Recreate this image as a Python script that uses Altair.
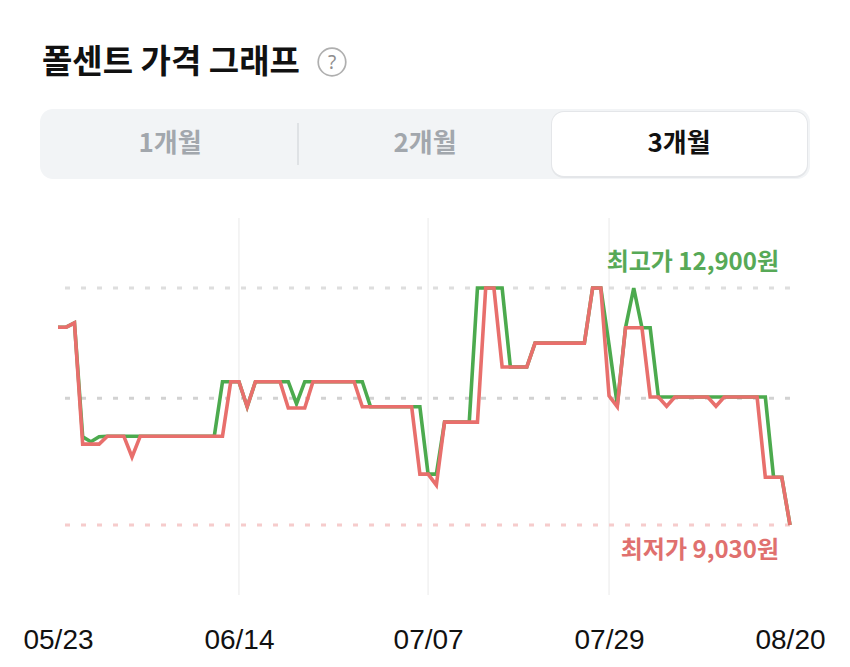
import json
import altair as alt
import pandas as pd

# ---------------- data ----------------
start_date = "2024-05-23"
tick_labels = ["05/23", "06/14", "07/07", "07/29", "08/20"]

low_prices = [
    12260, 12260, 12330, 10350, 10350, 10350, 10480, 10480, 10480, 10140,
    10480, 10480, 10480, 10480, 10480, 10480, 10480, 10480, 10480, 10480,
    10480, 11370, 11370, 10960, 11370, 11370, 11370, 11370, 10940, 10940,
    10940, 11370, 11370, 11370, 11370, 11370, 11370, 10960, 10960, 10960,
    10960, 10960, 10960, 10960, 9860, 9860, 9680, 10710, 10710, 10710,
    10710, 10710, 12900, 12900, 11610, 11610, 11610, 11610, 12000, 12000,
    12000, 12000, 12000, 12000, 12000, 12900, 12900, 11140, 10960, 12250,
    12250, 12250, 11120, 11120, 10970, 11120, 11120, 11120, 11120, 11120,
    10970, 11120, 11120, 11120, 11120, 11120, 9810, 9810, 9810, 9030,
]
high_prices = [
    12260, 12260, 12330, 10470, 10390, 10470, 10480, 10480, 10480, 10480,
    10480, 10480, 10480, 10480, 10480, 10480, 10480, 10480, 10480, 10480,
    11370, 11370, 11370, 10960, 11370, 11370, 11370, 11370, 11370, 11010,
    11370, 11370, 11370, 11370, 11370, 11370, 11370, 11370, 10960, 10960,
    10960, 10960, 10960, 10960, 10960, 9860, 9860, 10710, 10710, 10710,
    10710, 12900, 12900, 12900, 12900, 11610, 11610, 11610, 12000, 12000,
    12000, 12000, 12000, 12000, 12000, 12900, 12900, 11970, 10990, 12250,
    12900, 12250, 12250, 11120, 11120, 11120, 11120, 11120, 11120, 11120,
    11120, 11120, 11120, 11120, 11120, 11120, 11120, 9810, 9810, 9030,
]
max_price = 12900
min_price = 9030
mid_price = 11100

title_text = "폴센트 가격 그래프"
segments = ["1개월", "2개월", "3개월"]
selected_segment = "3개월"

# ---------------- derived tables ----------------
start = pd.Timestamp(start_date)
dates = pd.date_range(start, periods=len(low_prices), freq="D")
days = [(d - start).days for d in dates]
df = pd.DataFrame({"day": days, "high": high_prices, "low": low_prices})

tick_days = [(pd.Timestamp(f"{start.year}-{lbl.replace('/', '-')}") - start).days
             for lbl in tick_labels]
grid_df = pd.DataFrame({"day": tick_days[1:-1]})
ref_df = pd.DataFrame({"value": [max_price, mid_price, min_price],
                       "kind": ["max", "mid", "min"]})
last_day = days[-1]
max_df = pd.DataFrame({"day": [last_day], "value": [max_price],
                       "text": [f"최고가 {max_price:,}원"]})
min_df = pd.DataFrame({"day": [last_day], "value": [min_price],
                       "text": [f"최저가 {min_price:,}원"]})

GREEN = "#4caa4e"
RED = "#e86f6c"
KFONT = "Noto Sans CJK KR"

label_expr = f"{json.dumps(tick_labels)}[indexof({json.dumps(tick_days)}, datum.value)]"

x_scale = alt.Scale(domain=[days[0], days[-1]], nice=False, zero=False)
y_scale = alt.Scale(domain=[7887, 14043], nice=False, zero=False)

x_enc = alt.X("day:Q", scale=x_scale,
              axis=alt.Axis(values=tick_days, labelExpr=label_expr, title=None,
                            grid=False, domain=False, ticks=False, tickSize=0,
                            labelFontSize=28, labelColor="#111111",
                            labelFont="Liberation Sans", labelFlush=False,
                            labelOverlap=False, labelBound=False,
                            labelBaseline="alphabetic", labelPadding=53))

grid = alt.Chart(grid_df).mark_rule(color="#f1f1f1", strokeWidth=1.5).encode(
    x=alt.X("day:Q", scale=x_scale))

refs = alt.Chart(ref_df).mark_rule(strokeDash=[5, 11], strokeWidth=3).encode(
    y=alt.Y("value:Q", scale=y_scale, axis=None),
    color=alt.Color("kind:N", legend=None,
                    scale=alt.Scale(domain=["max", "mid", "min"],
                                    range=["#dedede", "#d2d2d2", "#f6cccc"])))

line_high = alt.Chart(df).mark_line(color=GREEN, strokeWidth=3.6).encode(
    x=x_enc, y=alt.Y("high:Q", scale=y_scale, axis=None))
line_low = alt.Chart(df).mark_line(color=RED, strokeWidth=3.6).encode(
    x=alt.X("day:Q", scale=x_scale), y=alt.Y("low:Q", scale=y_scale, axis=None))

max_label = alt.Chart(max_df).mark_text(
    align="right", baseline="alphabetic", dx=-11, dy=-18, fontSize=24,
    fontWeight="bold", font=KFONT, color="#57a957").encode(
    x=alt.X("day:Q", scale=x_scale), y=alt.Y("value:Q", scale=y_scale), text="text:N")
min_label = alt.Chart(min_df).mark_text(
    align="right", baseline="alphabetic", dx=-11, dy=33, fontSize=24,
    fontWeight="bold", font=KFONT, color="#e0706e").encode(
    x=alt.X("day:Q", scale=x_scale), y=alt.Y("value:Q", scale=y_scale), text="text:N")

# ---------------- header (title + period selector) ----------------
one = pd.DataFrame({"k": [0]})
title_df = pd.DataFrame({"t": [title_text]})
title_mark = alt.Chart(title_df).mark_text(
    align="left", baseline="alphabetic", fontSize=33, fontWeight="bold",
    font=KFONT, color="#111111").encode(
    x=alt.value(-16), y=alt.value(-145), text="t:N")
help_circle = alt.Chart(one).mark_point(
    shape="circle", filled=False, size=760, strokeWidth=1.7, color="#8e8e8e").encode(
    x=alt.value(274), y=alt.value(-156))
help_q = alt.Chart(pd.DataFrame({"t": ["?"]})).mark_text(
    align="center", baseline="middle", fontSize=19, font="Noto Sans",
    color="#8e8e8e").encode(x=alt.value(274), y=alt.value(-155), text="t:N")

seg_bg = alt.Chart(one).mark_rect(color="#f2f4f6", cornerRadius=13).encode(
    x=alt.value(-18), x2=alt.value(752), y=alt.value(-109), y2=alt.value(-39))
seg_shadow = alt.Chart(one).mark_rect(color="#e4e6e9", cornerRadius=13).encode(
    x=alt.value(493), x2=alt.value(750), y=alt.value(-107), y2=alt.value(-40))
seg_sel = alt.Chart(one).mark_rect(color="#ffffff", cornerRadius=12).encode(
    x=alt.value(494), x2=alt.value(749), y=alt.value(-106), y2=alt.value(-42))
seg_div = alt.Chart(one).mark_rule(color="#d9dcdf", strokeWidth=1.5).encode(
    x=alt.value(240), y=alt.value(-95), y2=alt.value(-53))

seg_centers = [112, 367, 621]
seg_texts = []
for name, cx in zip(segments, seg_centers):
    seg_texts.append(
        alt.Chart(pd.DataFrame({"t": [name]})).mark_text(
            align="center", baseline="middle", fontSize=26, fontWeight="bold",
            font=KFONT,
            color="#111111" if name == selected_segment else "#a2a7ad").encode(
            x=alt.value(cx), y=alt.value(-74), text="t:N"))

chart = alt.layer(
    grid, refs, line_high, line_low, max_label, min_label,
    seg_bg, seg_shadow, seg_sel, seg_div, *seg_texts,
    title_mark, help_circle, help_q,
).properties(
    width=732, height=377,
    autosize=alt.AutoSizeParams(type="none"),
    padding={"left": 50, "top": 210, "right": 52, "bottom": 61},
    background="white",
).configure_view(stroke=None)

chart.save("out.html", embed_options={"renderer": "svg", "actions": False})
